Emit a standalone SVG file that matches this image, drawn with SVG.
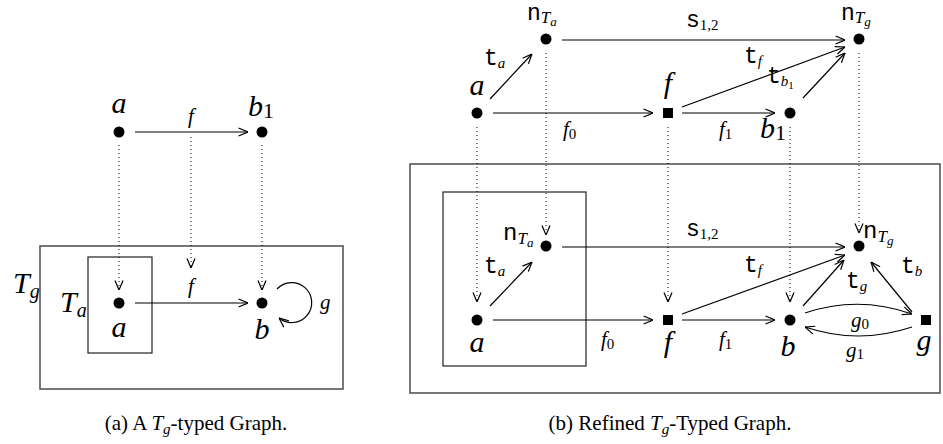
<svg xmlns="http://www.w3.org/2000/svg" width="943" height="444" viewBox="0 0 943 444">
<style>
.edge{fill:none;stroke:#000;stroke-width:1.2;marker-end:url(#arr)}
.dot{fill:none;stroke:#000;stroke-width:1;stroke-dasharray:1 3;marker-end:url(#arr)}
.box{fill:none;stroke:#555;stroke-width:1.6}
.ibox{fill:none;stroke:#222;stroke-width:1.2}
text{font-family:"Liberation Serif","Times New Roman",serif;fill:#000}
.nl{font-size:30px;font-style:italic}
.el{font-size:21px;font-style:italic}
.mono{font-family:"Liberation Mono","Courier New",monospace}
.cap{font-size:21px}
</style>
<defs>
<marker id="arr" viewBox="0 0 10 10" refX="10" refY="5" markerWidth="10" markerHeight="10" markerUnits="userSpaceOnUse" orient="auto">
<path d="M0.5,1 L10,5 L0.5,9" fill="none" stroke="#000" stroke-width="1.2"/>
</marker>
</defs>

<!-- Panel (a) -->
<rect class="box" x="40" y="246" width="303" height="143"/>
<g id="a-Ta-box"><rect class="ibox" x="88" y="257" width="64" height="96"/></g>
<text class="nl" x="13" y="293">T<tspan font-size="20" dy="5">g</tspan></text>
<text class="nl" x="60" y="312">T<tspan font-size="20" dy="5">a</tspan></text>

<g id="connectors-a">
<line class="edge" x1="135" y1="132" x2="248" y2="132"/>
<line class="edge" x1="135" y1="303" x2="248" y2="303"/>
<line class="dot" x1="119" y1="145" x2="119" y2="290"/>
<line class="dot" x1="191" y1="137" x2="191" y2="268"/>
<line class="dot" x1="262" y1="145" x2="262" y2="290"/>
<path class="edge" d="M277,289 A20,20 0 1,1 279,318"/>
<text class="el" x="191" y="123" text-anchor="middle">f</text>
<text class="el" x="191" y="293" text-anchor="middle">f</text>
<text class="el" x="320" y="309">g</text>
</g>

<g id="a-top-a"><circle cx="119" cy="132" r="5.5"/><text class="nl" x="119" y="113" text-anchor="middle">a</text></g>
<g id="a-top-b1"><circle cx="262" cy="132" r="5.5"/><text class="nl" x="248" y="116">b<tspan font-style="normal" font-size="22" dy="2">1</tspan></text></g>
<g id="a-bot-a"><circle cx="119" cy="303" r="5.5"/><text class="nl" x="119" y="337" text-anchor="middle">a</text></g>
<g id="a-bot-b"><circle cx="262" cy="303" r="5.5"/><text class="nl" x="262" y="339" text-anchor="middle">b</text></g>

<text class="cap" x="196" y="430" text-anchor="middle">(a)  A <tspan font-style="italic">T</tspan><tspan font-style="italic" font-size="15" dy="4">g</tspan><tspan dy="-4">-typed Graph.</tspan></text>

<!-- Panel (b) -->
<rect class="box" x="410" y="164" width="530" height="229"/>
<g id="b-Ta-box"><rect class="ibox" x="443" y="192" width="143" height="174"/></g>

<g id="connectors-b">
<!-- top row -->
<line class="edge" x1="562" y1="40" x2="845" y2="40"/>
<line class="edge" x1="490" y1="99" x2="532" y2="54"/>
<line class="edge" x1="493" y1="113" x2="653" y2="113"/>
<line class="edge" x1="682" y1="113" x2="775" y2="113"/>
<line class="edge" x1="682" y1="107" x2="845" y2="47"/>
<line class="edge" x1="803" y1="98" x2="845" y2="53"/>
<!-- dotted typing -->
<line class="dot" x1="477" y1="127" x2="477" y2="302"/>
<line class="dot" x1="546" y1="53" x2="546" y2="235"/>
<line class="dot" x1="668" y1="127" x2="668" y2="302"/>
<line class="dot" x1="790" y1="127" x2="790" y2="302"/>
<line class="dot" x1="859" y1="53" x2="859" y2="233"/>
<!-- bottom row -->
<line class="edge" x1="562" y1="247" x2="845" y2="247"/>
<line class="edge" x1="490" y1="306" x2="532" y2="262"/>
<line class="edge" x1="493" y1="320" x2="653" y2="320"/>
<line class="edge" x1="682" y1="320" x2="775" y2="320"/>
<line class="edge" x1="682" y1="314" x2="845" y2="255"/>
<line class="edge" x1="803" y1="306" x2="844" y2="260"/>
<line class="edge" x1="912" y1="312" x2="871" y2="262"/>
<path class="edge" d="M805,313 Q858,295 912,314"/>
<path class="edge" d="M912,327 Q858,345 805,327"/>

<!-- labels top -->
<text x="686" y="27"><tspan class="mono" font-size="23">s</tspan><tspan font-size="15" dy="3">1,2</tspan></text>
<text x="484" y="65"><tspan class="mono" font-size="23">t</tspan><tspan font-size="15" font-style="italic" dy="3">a</tspan></text>
<text class="el" x="563" y="136">f<tspan font-style="normal" font-size="15" dy="3">0</tspan></text>
<text class="el" x="719" y="136">f<tspan font-style="normal" font-size="15" dy="3">1</tspan></text>
<text x="744" y="63"><tspan class="mono" font-size="23">t</tspan><tspan font-size="15" font-style="italic" dy="3">f</tspan></text>
<text x="767" y="83"><tspan class="mono" font-size="23">t</tspan><tspan font-size="15" font-style="italic" dy="3">b</tspan><tspan font-size="11" dy="3">1</tspan></text>
<!-- labels bottom -->
<text x="686" y="236"><tspan class="mono" font-size="23">s</tspan><tspan font-size="15" dy="3">1,2</tspan></text>
<text x="484" y="273"><tspan class="mono" font-size="23">t</tspan><tspan font-size="15" font-style="italic" dy="3">a</tspan></text>
<text class="el" x="601" y="346">f<tspan font-style="normal" font-size="15" dy="3">0</tspan></text>
<text class="el" x="719" y="346">f<tspan font-style="normal" font-size="15" dy="3">1</tspan></text>
<text x="744" y="272"><tspan class="mono" font-size="23">t</tspan><tspan font-size="15" font-style="italic" dy="3">f</tspan></text>
<text x="846" y="288"><tspan class="mono" font-size="23">t</tspan><tspan font-size="15" font-style="italic" dy="3">g</tspan></text>
<text x="901" y="273"><tspan class="mono" font-size="23">t</tspan><tspan font-size="15" font-style="italic" dy="3">b</tspan></text>
<text class="el" x="851" y="327">g<tspan font-style="normal" font-size="15" dy="2">0</tspan></text>
<text class="el" x="846" y="357">g<tspan font-style="normal" font-size="15" dy="2">1</tspan></text>
</g>

<!-- top row nodes -->
<g id="b-top-nTa"><circle cx="546" cy="39" r="5.5"/><text x="527" y="20"><tspan class="mono" font-size="23">n</tspan><tspan font-size="17" font-style="italic" dy="3">T</tspan><tspan font-size="13" font-style="italic" dy="3">a</tspan></text></g>
<g id="b-top-nTg"><circle cx="859" cy="39" r="5.5"/><text x="841" y="20"><tspan class="mono" font-size="23">n</tspan><tspan font-size="17" font-style="italic" dy="3">T</tspan><tspan font-size="13" font-style="italic" dy="3">g</tspan></text></g>
<g id="b-top-a"><circle cx="477" cy="113" r="5.5"/><text class="nl" x="477" y="95" text-anchor="middle">a</text></g>
<g id="b-top-f"><rect x="663" y="108" width="10" height="10"/><text class="nl" x="668" y="93" text-anchor="middle">f</text></g>
<g id="b-top-b1"><circle cx="790" cy="113" r="5.5"/><text class="nl" x="760" y="138">b<tspan font-style="normal" font-size="22" dy="2">1</tspan></text></g>

<!-- bottom row nodes -->
<g id="b-bot-nTa"><circle cx="546" cy="246" r="5.5"/><text x="503" y="240"><tspan class="mono" font-size="24">n</tspan><tspan font-size="17" font-style="italic" dy="4">T</tspan><tspan font-size="13" font-style="italic" dy="3">a</tspan></text></g>
<g id="b-bot-nTg"><circle cx="859" cy="246" r="5.5"/><text x="863" y="238"><tspan class="mono" font-size="24">n</tspan><tspan font-size="17" font-style="italic" dy="4">T</tspan><tspan font-size="13" font-style="italic" dy="3">g</tspan></text></g>
<g id="b-bot-a"><circle cx="477" cy="320" r="5.5"/><text class="nl" x="477" y="352" text-anchor="middle">a</text></g>
<g id="b-bot-f"><rect x="663" y="315" width="10" height="10"/><text class="nl" x="668" y="352" text-anchor="middle">f</text></g>
<g id="b-bot-b"><circle cx="790" cy="320" r="5.5"/><text class="nl" x="788" y="356" text-anchor="middle">b</text></g>
<g id="b-bot-g"><rect x="921" y="315" width="10" height="10"/><text class="nl" x="924" y="350" text-anchor="middle">g</text></g>

<text class="cap" x="670" y="430" text-anchor="middle">(b)  Refined <tspan font-style="italic">T</tspan><tspan font-style="italic" font-size="15" dy="4">g</tspan><tspan dy="-4">-Typed Graph.</tspan></text>
</svg>
